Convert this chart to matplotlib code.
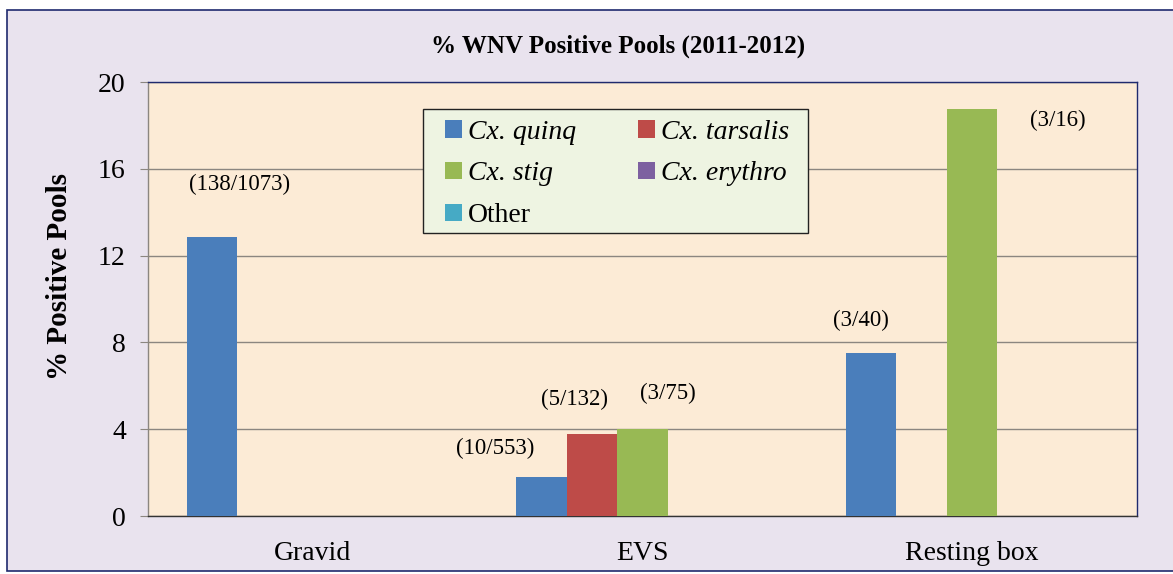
import matplotlib
matplotlib.use('Agg')
import matplotlib.pyplot as plt
import numpy as np
from matplotlib.patches import Rectangle

# Trap types and mosquito groups
categories = ['Gravid', 'EVS', 'Resting box']
species = ['Cx. quinq', 'Cx. tarsalis', 'Cx. stig', 'Cx. erythro', 'Other']
colors = ['#4A7EBB', '#BE4B48', '#98B954', '#7D60A0', '#46AAC5']

# Positive pools / pools tested per trap type (None = not tested)
positives = {
    'Cx. quinq':    [138, 10, 3],
    'Cx. tarsalis': [None, 5, None],
    'Cx. stig':     [None, 3, 3],
    'Cx. erythro':  [None, None, None],
    'Other':        [None, None, None],
}
pools = {
    'Cx. quinq':    [1073, 553, 40],
    'Cx. tarsalis': [None, 132, None],
    'Cx. stig':     [None, 75, 16],
    'Cx. erythro':  [None, None, None],
    'Other':        [None, None, None],
}

# where each "(pos/total)" label sits
label_pos = {
    ('Cx. quinq', 0): (-0.221, 15.3),
    ('Cx. quinq', 1): (0.553, 3.13),
    ('Cx. tarsalis', 1): (0.795, 5.35),
    ('Cx. stig', 1): (1.077, 5.67),
    ('Cx. quinq', 2): (1.663, 9.03),
    ('Cx. stig', 2): (2.26, 18.25),
}

plt.rcParams['font.family'] = ['Liberation Serif', 'DejaVu Serif']

fig = plt.figure(figsize=(11.73, 5.74), dpi=100, facecolor='white')
fig.patches.append(Rectangle((0.006, 0.005), 1.0, 0.9776, transform=fig.transFigure,
                             facecolor='#E9E3EE', edgecolor='#1F2A6E', linewidth=1.2,
                             zorder=-10))

ax = fig.add_axes([0.1262, 0.1010, 0.8431, 0.7561])
ax.set_facecolor('#FCEBD6')

x = np.arange(len(categories))
width = 0.1532
handles = []
for i, sp in enumerate(species):
    vals = [p / t * 100 if p is not None else 0 for p, t in zip(positives[sp], pools[sp])]
    b = ax.bar(x + (i - 2) * width, vals, width, color=colors[i], label=sp, zorder=3)
    handles.append(b)
    for j, (p, t) in enumerate(zip(positives[sp], pools[sp])):
        if p is not None:
            lx, ly = label_pos[(sp, j)]
            ax.text(lx, ly, f'({p}/{t})', ha='center', va='center', fontsize=16.5, zorder=4)

ax.set_xlim(-0.5, 2.5)
ax.set_ylim(0, 20)
ax.set_yticks([0, 4, 8, 12, 16, 20])
ax.set_xticks(x)
ax.set_xticklabels(categories, fontsize=20)
ax.tick_params(axis='y', labelsize=20, length=6, pad=10, color='#8B8680')
ax.tick_params(axis='x', length=0, pad=18)
ax.yaxis.grid(True, color='#8B8680', linewidth=1.0)
ax.set_axisbelow(True)

ax.spines['left'].set_color('#8B8680')
ax.spines['bottom'].set_color('#333333')
ax.spines['top'].set_color('#1F2A6E')
ax.spines['right'].set_color('#1F2A6E')
for s in ax.spines.values():
    s.set_linewidth(1.0)

# legend box drawn separately so the padding can differ per side
ax.add_patch(Rectangle((0.278, 0.652), 0.389, 0.286, transform=ax.transAxes,
                       facecolor='#EEF4E2', edgecolor='#222222', linewidth=1.0, zorder=5))

# legend filled row-wise: reorder for matplotlib's column filling
order = [0, 2, 4, 1, 3]
leg = ax.legend([handles[k] for k in order], [species[k] for k in order], ncol=2,
                loc='upper left', bbox_to_anchor=(0.3003, 0.913), fontsize=20,
                frameon=False, handlelength=0.6, handleheight=0.6,
                handletextpad=0.22, columnspacing=2.25, labelspacing=0.6,
                borderpad=0, borderaxespad=0)
leg.set_zorder(6)
for t in leg.get_texts():
    if t.get_text().startswith('Cx.'):
        t.set_fontstyle('italic')

fig.text(0.527, 0.92, '% WNV Positive Pools (2011-2012)', ha='center', va='center',
         fontsize=18, fontweight='bold')
fig.text(0.051, 0.519, '% Positive Pools', rotation=90, ha='center', va='center',
         fontsize=21, fontweight='bold')

fig.savefig('out.png', dpi=100, facecolor=fig.get_facecolor())
